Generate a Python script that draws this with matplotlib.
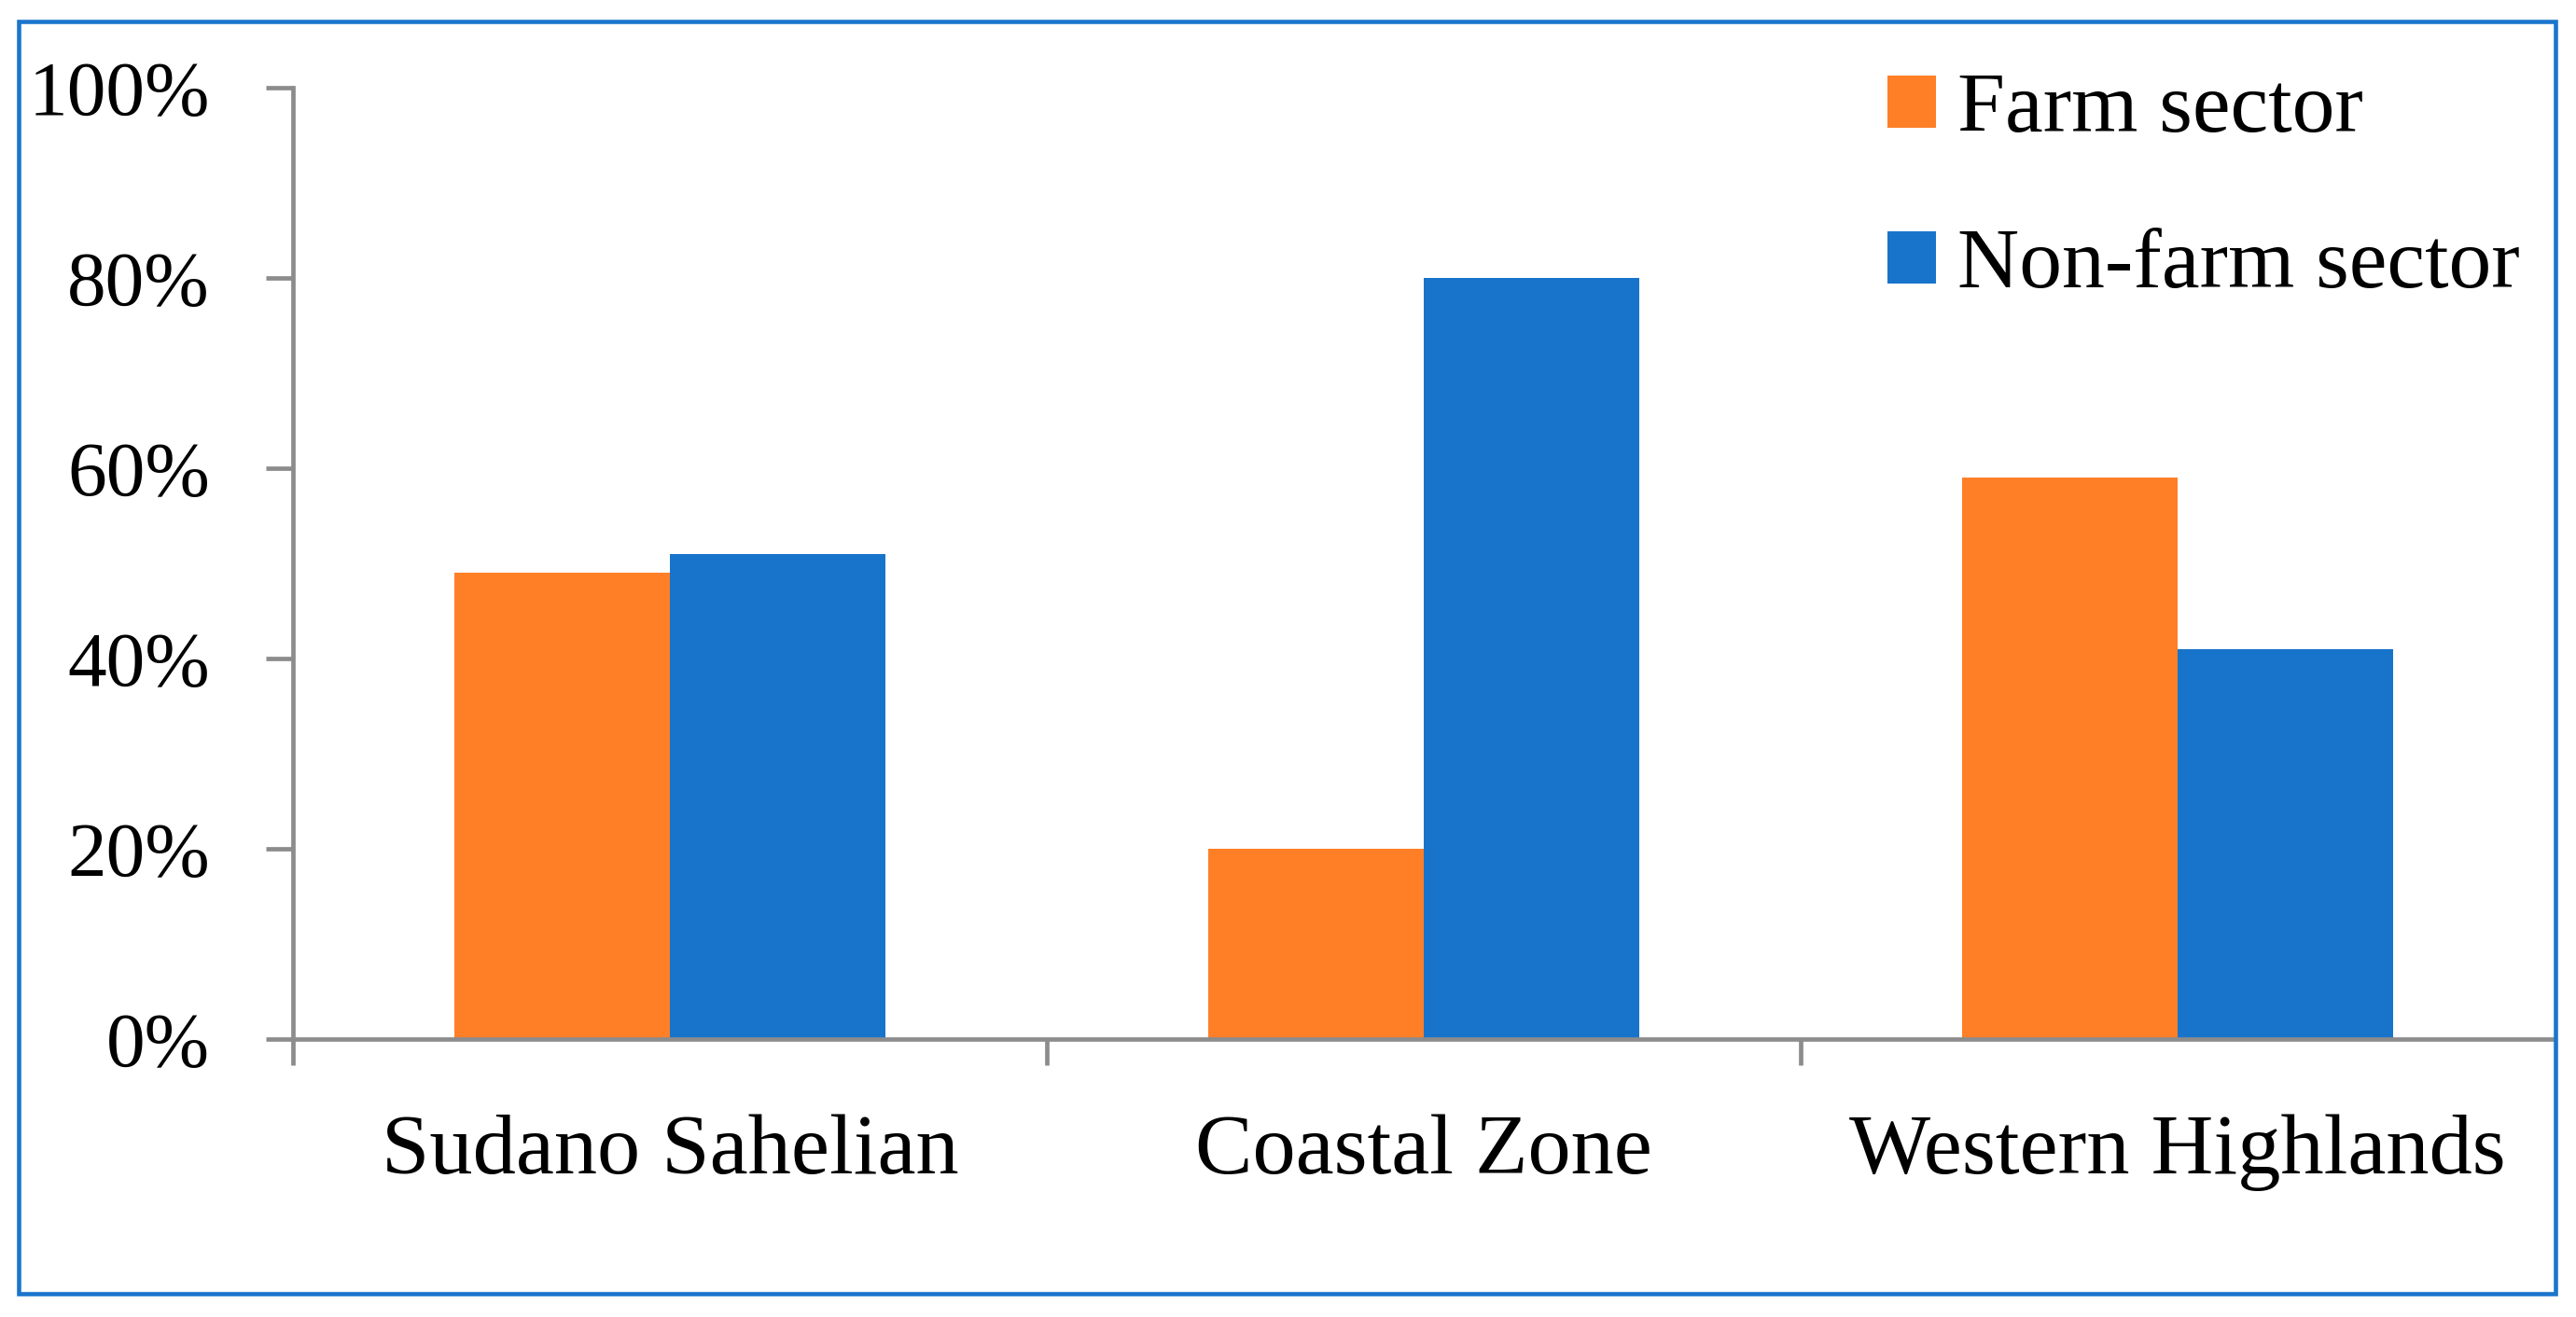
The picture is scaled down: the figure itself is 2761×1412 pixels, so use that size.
import numpy as np
import matplotlib
matplotlib.use("Agg")
import matplotlib.pyplot as plt
from matplotlib.patches import Rectangle

# ========= data =========

regions = ["Sudano Sahelian", "Coastal Zone", "Western Highlands"]
farm = [0.49, 0.20, 0.59]
non_farm = [0.51, 0.80, 0.41]
series_names = ["Farm sector", "Non-farm sector"]
y_ticks = [0.0, 0.2, 0.4, 0.6, 0.8, 1.0]
y_tick_labels = ["0%", "20%", "40%", "60%", "80%", "100%"]

ORANGE = "#ff7f27"
BLUE = "#1874cb"
GRAY = "#8c8c8c"

plt.rcParams["font.family"] = ["Liberation Serif", "DejaVu Serif"]

W, H = 2761, 1412
fig = plt.figure(figsize=(W / 100, H / 100), dpi=100)

# axes placed by pixel edges of the reference
left, right, top, bottom = 314, 2738, 94, 1114
ax = fig.add_axes([left / W, 1 - bottom / H, (right - left) / W, (bottom - top) / H])

x = np.arange(len(regions))
bw = 0.286
ax.bar(x - bw / 2, farm, bw, color=ORANGE, label=series_names[0])
ax.bar(x + bw / 2, non_farm, bw, color=BLUE, label=series_names[1])

ax.set_xlim(-0.5, len(regions) - 0.5)
ax.set_ylim(0, 1.0)

for side in ["top", "right"]:
    ax.spines[side].set_visible(False)
for side in ["left", "bottom"]:
    ax.spines[side].set_color(GRAY)
    ax.spines[side].set_linewidth(3.4)
ax.spines["bottom"].set_zorder(3)

ax.set_yticks(y_ticks)
ax.set_yticklabels(y_tick_labels)
ax.tick_params(axis="y", direction="out", length=21, width=3.4, color=GRAY,
               pad=43, labelsize=60)

# category labels at centers, tick marks at category boundaries (not the last)
ax.set_xticks(x)
ax.set_xticklabels(regions)
ax.set_xticks(np.arange(-0.5, len(regions) - 1, 1.0), minor=True)
ax.tick_params(axis="x", which="major", length=0, pad=58, labelsize=66.5)
ax.tick_params(axis="x", which="minor", direction="out", length=20, width=3.4,
               color=GRAY)

leg = ax.legend(loc="upper left", bbox_to_anchor=(2023 / W, 1 - 78 / H),
                bbox_transform=fig.transFigure, frameon=False, fontsize=66,
                handlelength=0.57, handleheight=0.56, handletextpad=0.25,
                labelspacing=0.92, borderpad=0, borderaxespad=0)

# blue outer frame
fig.patches.append(Rectangle((20 / W, 1 - 1387 / H), (2739 - 20) / W, (1387 - 23) / H,
                             transform=fig.transFigure, fill=False,
                             edgecolor="#1a75cc", linewidth=3.3))

fig.savefig("out.png", dpi=100)
